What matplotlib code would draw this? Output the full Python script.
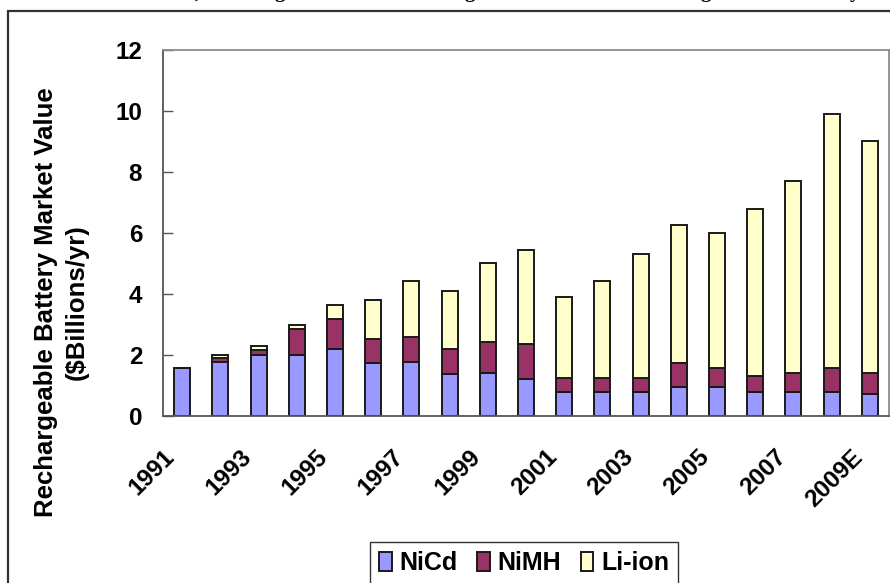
import matplotlib
matplotlib.use("Agg")
import matplotlib.pyplot as plt
from matplotlib.patches import Rectangle
from matplotlib.transforms import ScaledTranslation
import numpy as np

years = ["1991", "1992", "1993", "1994", "1995", "1996", "1997", "1998", "1999", "2000",
         "2001", "2002", "2003", "2004", "2005", "2006", "2007", "2008", "2009E"]
nicd = [1.58, 1.78, 2.00, 2.01, 2.21, 1.74, 1.78, 1.37, 1.42, 1.21,
        0.79, 0.79, 0.79, 0.94, 0.94, 0.79, 0.79, 0.79, 0.73]
nimh = [0.00, 0.11, 0.15, 0.84, 0.96, 0.77, 0.80, 0.84, 1.00, 1.15,
        0.47, 0.47, 0.47, 0.79, 0.63, 0.52, 0.63, 0.78, 0.69]
liion = [0.00, 0.12, 0.13, 0.15, 0.47, 1.28, 1.85, 1.90, 2.59, 3.07,
         2.64, 3.17, 4.06, 4.53, 4.44, 5.49, 6.27, 8.34, 7.60]
tick_labels = ["1991", "", "1993", "", "1995", "", "1997", "", "1999", "",
               "2001", "", "2003", "", "2005", "", "2007", "", "2009E"]
series_names = ["NiCd", "NiMH", "Li-ion"]
colors = ["#9999FF", "#993366", "#FFFFCC"]

plt.rcParams['font.family'] = ['Liberation Sans', 'DejaVu Sans']

W, H = 890, 583
fig = plt.figure(figsize=(W / 100, H / 100), dpi=100)

# outer chart frame
fig.patches.append(Rectangle((8 / W, -0.1), 1.2, (H - 11) / H + 0.1, transform=fig.transFigure,
                             fill=False, edgecolor="#333333", linewidth=1.6, zorder=0))

# cut-off title descenders at top (title line lies above the visible area)
for ch, px in [(",", 197), ("g", 280), ("g", 470), ("g", 706), ("y", 855)]:
    fig.text(px / W, 1 + 2.5 / H, ch, family="Liberation Serif", fontweight="bold",
             fontsize=15, ha="center", va="baseline")

left, right, top, bottom = 163, 889, 50, 416
ax = fig.add_axes([left / W, (H - bottom) / H, (right - left) / W, (bottom - top) / H])

x = np.arange(len(years))
bw = 0.42
ec = "#1a1a1a"
lw = 1.4
b1 = ax.bar(x, nicd, bw, color=colors[0], edgecolor=ec, linewidth=lw, label=series_names[0])
b2 = ax.bar(x, nimh, bw, bottom=nicd, color=colors[1], edgecolor=ec, linewidth=lw,
            label=series_names[1])
bot2 = np.array(nicd) + np.array(nimh)
b3 = ax.bar(x, liion, bw, bottom=bot2, color=colors[2], edgecolor=ec, linewidth=lw,
            label=series_names[2])

ax.set_xlim(-0.5, len(years) - 0.5)
ax.set_ylim(0, 12)
ax.set_yticks(np.arange(0, 13, 2))
ax.set_yticklabels([str(v) for v in range(0, 13, 2)], fontsize=17.5, fontweight="bold")
ax.tick_params(axis="y", direction="in", length=7, width=1, color="#555555", pad=15)
ax.set_xticks(x)
ax.set_xticklabels(tick_labels, rotation=45, ha="right", va="center",
                   rotation_mode="anchor", fontsize=17.5, fontweight="bold")
ax.tick_params(axis="x", length=0, pad=27)
shift = ScaledTranslation(-11 / 100, 0, fig.dpi_scale_trans)
for lab in ax.get_xticklabels():
    lab.set_transform(lab.get_transform() + shift)

for s in ["top", "right"]:
    ax.spines[s].set_color("#8c8c8c")
    ax.spines[s].set_linewidth(1.3)
for s in ["left", "bottom"]:
    ax.spines[s].set_color("#555555")
    ax.spines[s].set_linewidth(1.3)

fig.text(46 / W, 1 - 302 / H, "Rechargeable Battery Market Value", rotation=90,
         ha="center", va="center", fontsize=18.5, fontweight="bold")
fig.text(77 / W, 1 - 302 / H, "($Billions/yr)", rotation=90,
         ha="center", va="center", fontsize=18.5, fontweight="bold")

leg = fig.legend(handles=[b1, b2, b3], labels=series_names, loc="center",
                 bbox_to_anchor=(524 / W, 1 - 563 / H), ncol=3, frameon=True,
                 fancybox=False, edgecolor="#000000", handlelength=0.5, handleheight=0.8,
                 handletextpad=0.3, columnspacing=0.8, borderpad=0.35,
                 prop={"weight": "bold", "size": 18})
leg.get_frame().set_linewidth(1.0)

fig.savefig("out.png", dpi=100)
